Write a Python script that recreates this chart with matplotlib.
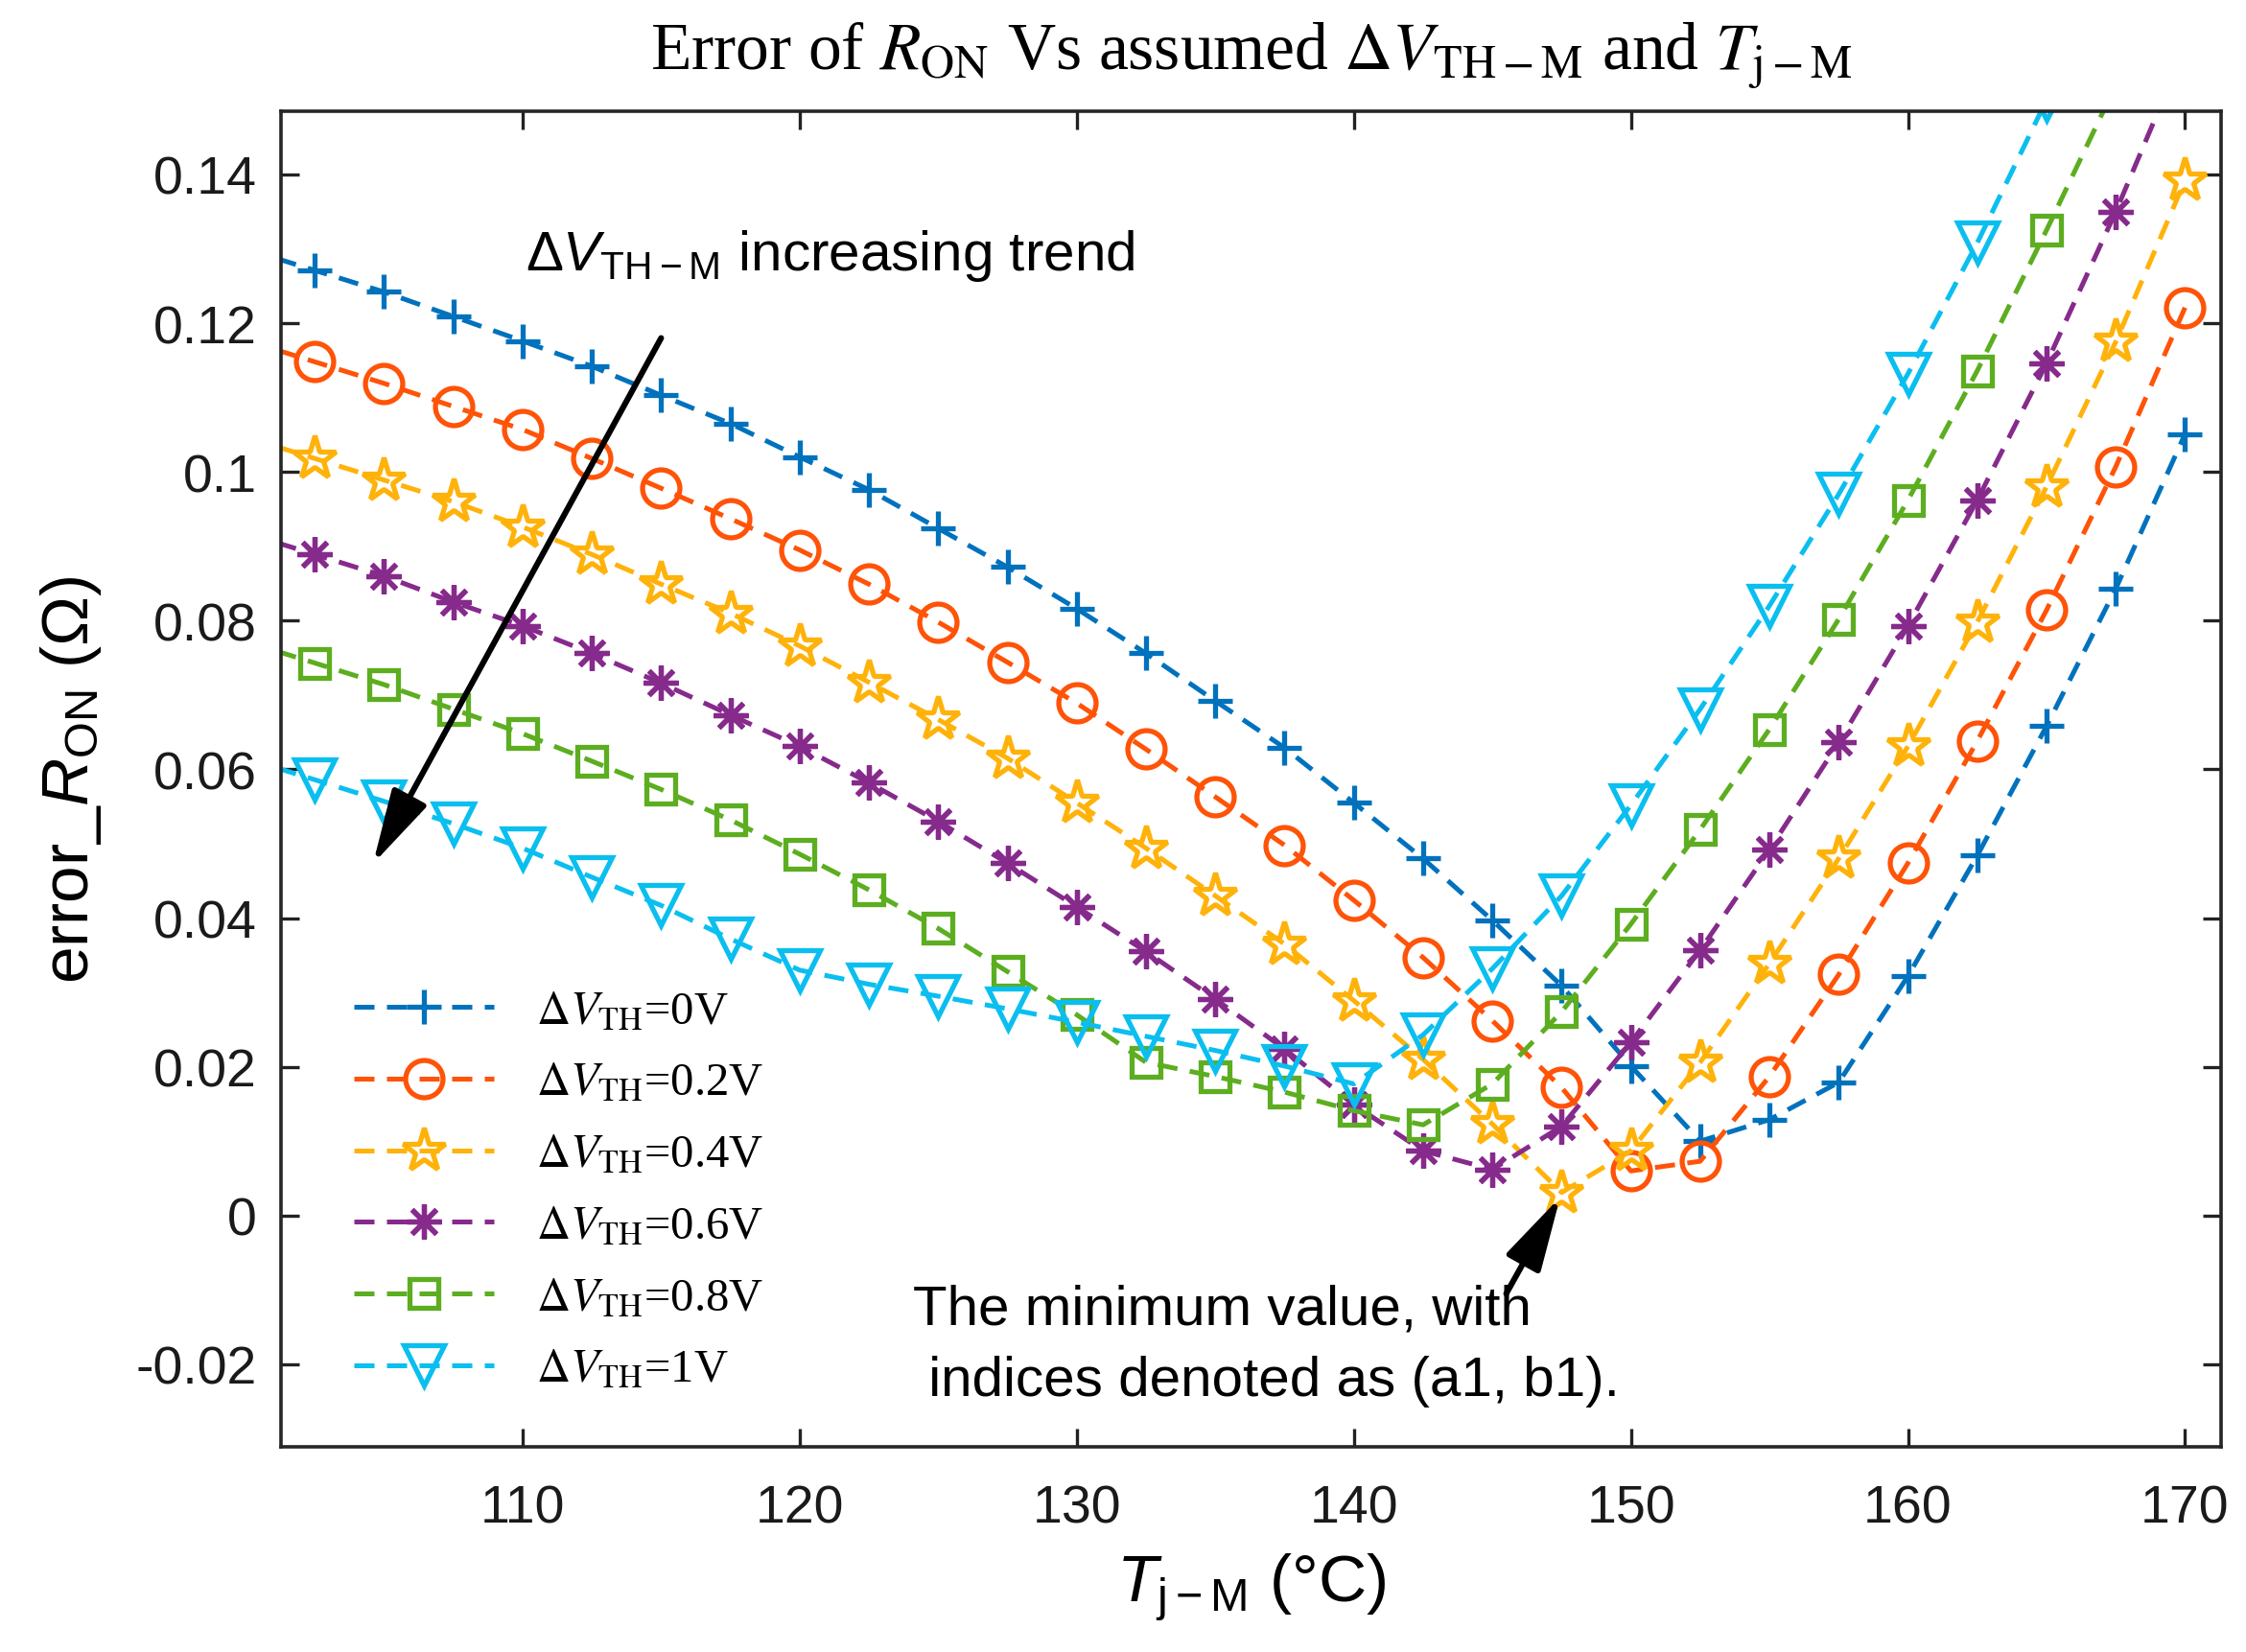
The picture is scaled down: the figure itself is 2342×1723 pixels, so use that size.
import matplotlib
matplotlib.use("Agg")
import matplotlib.pyplot as plt

# ---------------- data ----------------
T = [100, 102.5, 105, 107.5, 110, 112.5, 115, 117.5, 120, 122.5, 125, 127.5, 130,
     132.5, 135, 137.5, 140, 142.5, 145, 147.5, 150, 152.5, 155, 157.5, 160,
     162.5, 165, 167.5, 170]

err_0V = [0.1300, 0.1271, 0.1242, 0.1209, 0.1176, 0.1142, 0.1103, 0.1065, 0.1020,
          0.0976, 0.0924, 0.0872, 0.0816, 0.0756, 0.0692, 0.0629, 0.0555, 0.0480,
          0.0397, 0.0309, 0.0201, 0.0100, 0.0129, 0.0179, 0.0322, 0.0484, 0.0658,
          0.0843, 0.1051]
err_02V = [0.1177, 0.1148, 0.1119, 0.1088, 0.1057, 0.1018, 0.0978, 0.0937, 0.0895,
           0.0849, 0.0798, 0.0744, 0.0689, 0.0627, 0.0563, 0.0498, 0.0424, 0.0347,
           0.0262, 0.0172, 0.0060, 0.0073, 0.0187, 0.0324, 0.0474, 0.0638, 0.0814,
           0.1007, 0.1221]
err_04V = [0.1047, 0.1018, 0.0989, 0.0960, 0.0926, 0.0889, 0.0849, 0.0810, 0.0766,
           0.0717, 0.0667, 0.0615, 0.0555, 0.0494, 0.0430, 0.0365, 0.0289, 0.0210,
           0.0123, 0.0031, 0.0087, 0.0206, 0.0339, 0.0480, 0.0631, 0.0798, 0.0980,
           0.1175, 0.1392]
err_06V = [0.0918, 0.0889, 0.0860, 0.0825, 0.0793, 0.0756, 0.0716, 0.0673, 0.0631,
           0.0582, 0.0530, 0.0474, 0.0415, 0.0355, 0.0291, 0.0224, 0.0149, 0.0087,
           0.0062, 0.0120, 0.0233, 0.0357, 0.0492, 0.0636, 0.0793, 0.0962, 0.1146,
           0.1350, 0.1570]
err_08V = [0.0772, 0.0743, 0.0714, 0.0681, 0.0648, 0.0611, 0.0573, 0.0532, 0.0486,
           0.0438, 0.0386, 0.0328, 0.0270, 0.0206, 0.0187, 0.0166, 0.0141, 0.0122,
           0.0177, 0.0274, 0.0392, 0.0519, 0.0654, 0.0802, 0.0962, 0.1136, 0.1325,
           0.1520, 0.1720]
err_1V = [0.0615, 0.0586, 0.0557, 0.0527, 0.0494, 0.0455, 0.0417, 0.0372, 0.0330,
          0.0311, 0.0295, 0.0278, 0.0260, 0.0241, 0.0222, 0.0201, 0.0177, 0.0243,
          0.0332, 0.0430, 0.0552, 0.0681, 0.0820, 0.0970, 0.1132, 0.1308, 0.1500,
          0.1700, 0.1900]

series = [err_0V, err_02V, err_04V, err_06V, err_08V, err_1V]
labels = [r'$\Delta V_{\mathrm{TH}}$=0V', r'$\Delta V_{\mathrm{TH}}$=0.2V',
          r'$\Delta V_{\mathrm{TH}}$=0.4V', r'$\Delta V_{\mathrm{TH}}$=0.6V',
          r'$\Delta V_{\mathrm{TH}}$=0.8V', r'$\Delta V_{\mathrm{TH}}$=1V']
xticks = [110, 120, 130, 140, 150, 160, 170]
yticks = [-0.02, 0, 0.02, 0.04, 0.06, 0.08, 0.10, 0.12, 0.14]
ytick_labels = ['-0.02', '0', '0.02', '0.04', '0.06', '0.08', '0.1', '0.12', '0.14']

# ---------------- style ----------------
colors = ['#0072BD', '#FF5308', '#FFB20A', '#862A8C', '#5CAE20', '#0ABFEF']
markers = ['+', 'o', '*', (8, 2, 0), 's', 'v']
msizes = [13, 14, 17, 13, 11, 15]

plt.rcParams['mathtext.fontset'] = 'custom'
plt.rcParams['mathtext.rm'] = 'Liberation Sans'
plt.rcParams['mathtext.it'] = 'Liberation Sans:italic'
plt.rcParams['mathtext.bf'] = 'Liberation Sans:bold'

fig = plt.figure(figsize=(2342 / 200, 1724 / 200), dpi=200)
ax = fig.add_axes([293 / 2342, 1 - 1510 / 1724, (2316 - 293) / 2342, (1510 - 117) / 1724])

handles = []
for y, c, m, ms, lab in zip(series, colors, markers, msizes, labels):
    h, = ax.plot(T, y, linestyle=(0, (4.2, 2.6)), color=c, linewidth=1.8,
                 marker=m, markersize=ms, markerfacecolor='none',
                 markeredgecolor=c, markeredgewidth=1.9, label=lab)
    handles.append(h)

ax.set_xlim(101.28, 171.3)
ax.set_ylim(-0.0311, 0.1485)
ax.set_xticks(xticks)
ax.set_xticklabels([str(v) for v in xticks])
ax.set_yticks(yticks)
ax.set_yticklabels(ytick_labels)
ax.tick_params(direction='in', length=7, width=1.2, top=True, right=True,
               labelsize=20, colors='#222222')
ax.tick_params(axis='x', pad=14)
ax.tick_params(axis='y', pad=9)
for lab in ax.get_xticklabels() + ax.get_yticklabels():
    lab.set_family('Liberation Sans')
    lab.set_color('#1a1a1a')
for s in ax.spines.values():
    s.set_linewidth(1.3)
    s.set_color('#262626')

# labels
ax.set_xlabel(r'$T_{\mathrm{j-M}}$ (°C)', fontsize=25, family='Liberation Sans',
              math_fontfamily='custom', labelpad=6)
ax.set_ylabel(r'error_$R_{\mathrm{ON}}$ ($\Omega$)', fontsize=25, family='Liberation Sans',
              math_fontfamily='custom', labelpad=12)
ax.set_title(r'Error of $R_{\mathrm{ON}}$ Vs assumed $\Delta V_{\mathrm{TH-M}}$ and $T_{\mathrm{j-M}}$',
             fontsize=25, family='Liberation Serif', math_fontfamily='stix', pad=16)

# annotations
arrow_kw = dict(arrowstyle='-|>,head_length=0.85,head_width=0.22', color='black',
                lw=2.2, shrinkA=0, shrinkB=0, mutation_scale=28)
ax.annotate('', xy=(104.6, 0.0473), xytext=(115.0, 0.1180), arrowprops=arrow_kw)
ax.text(110.1, 0.1292, r'$\Delta V_{\mathrm{TH-M}}$ increasing trend', fontsize=21,
        family='Liberation Sans', math_fontfamily='custom', va='center', ha='left')

ax.annotate('', xy=(147.45, 0.0025), xytext=(145.5, -0.0105), arrowprops=arrow_kw)
ax.text(124.1, -0.0174, 'The minimum value, with\n indices denoted as (a1, b1).',
        fontsize=21, family='Liberation Sans', va='center', ha='left', linespacing=1.5)

leg = ax.legend(handles=handles, loc='upper left', bbox_to_anchor=(0.028, 0.356),
                frameon=False, handlelength=3.0, handletextpad=0.9,
                labelspacing=0.62, borderaxespad=0,
                prop={'family': 'Liberation Serif', 'size': 17.5})
for t in leg.get_texts():
    t.set_math_fontfamily('stix')

fig.savefig('out.png', dpi=200)
